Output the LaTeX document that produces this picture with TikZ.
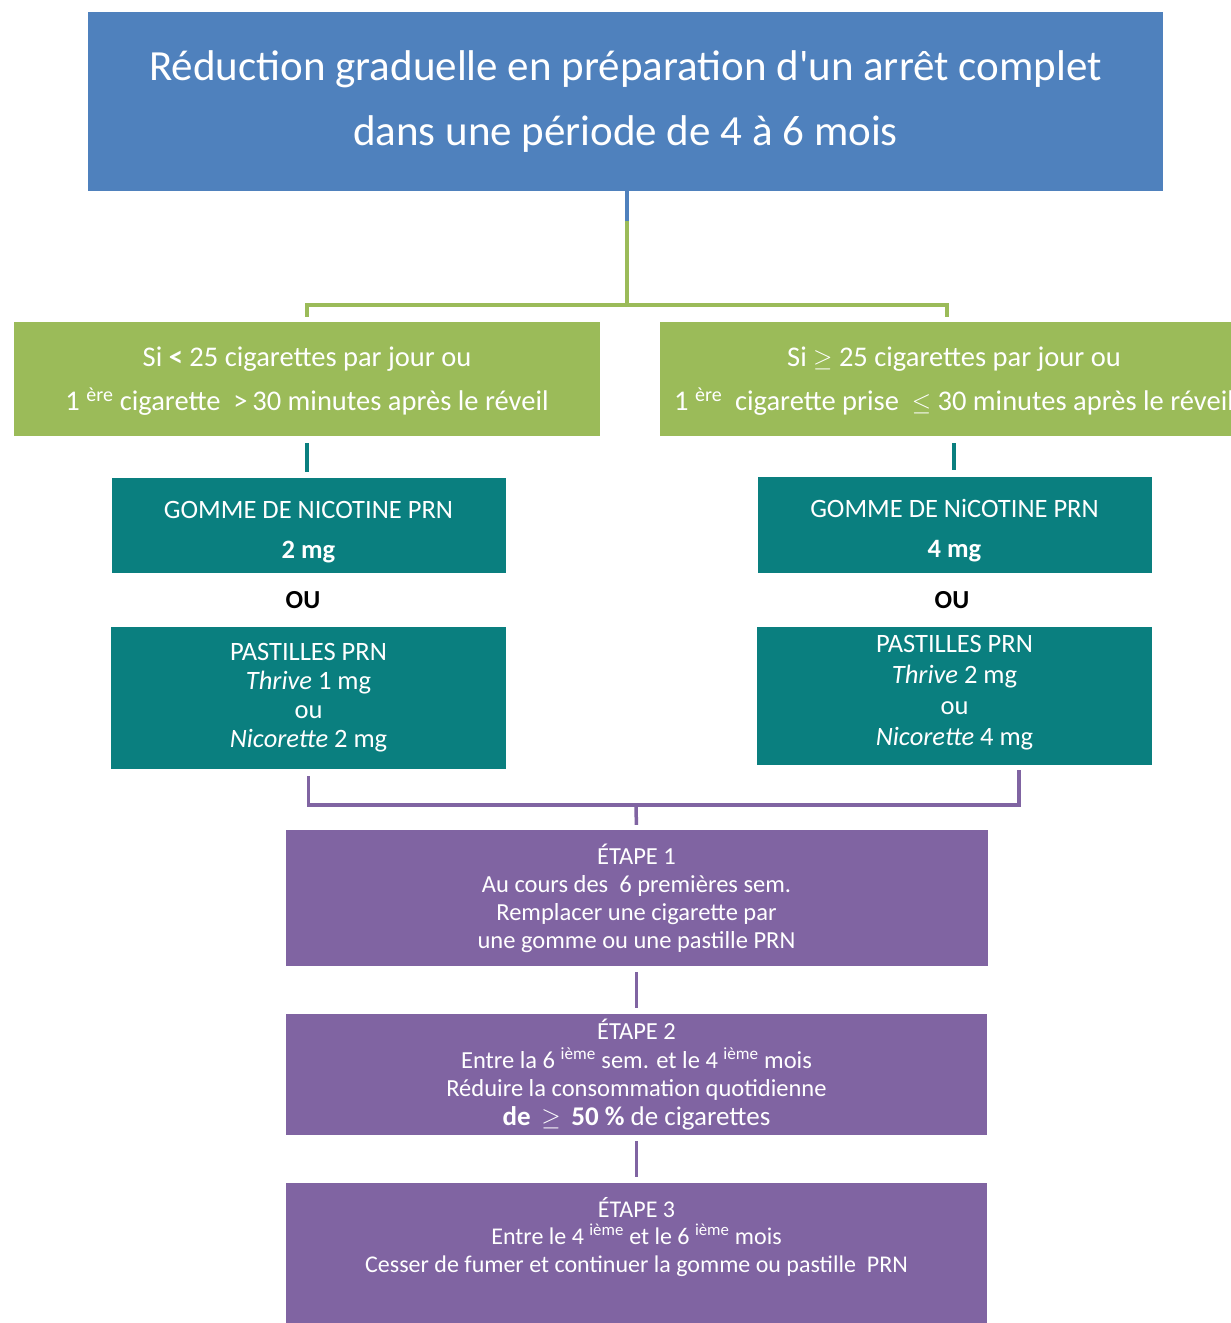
\documentclass[tikz,border=0pt]{standalone}
\usepackage{fontspec}
\setmainfont{Carlito}
\usetikzlibrary{calc}
\definecolor{cblue}{HTML}{4F81BD}
\definecolor{cgreen}{HTML}{9BBB59}
\definecolor{cteal}{HTML}{0A7F7F}
\definecolor{cpurple}{HTML}{8064A2}
\tikzset{
  box/.style={rectangle, inner sep=0pt, text=white, align=center},
  bluebox/.style={box, fill=cblue, minimum width=1075pt, minimum height=179pt, font=\fontsize{43}{65}\selectfont},
  greenbox/.style={box, fill=cgreen, minimum width=586pt, minimum height=114pt},
  greentext/.style={box, font=\fontsize{28.5}{44}\selectfont},
  tealbox/.style={box, fill=cteal, minimum width=394pt, font=\fontsize{26.5}{40}\selectfont},
  tealtext/.style={box, font=\fontsize{26.5}{40}\selectfont},
  purplebox/.style={box, fill=cpurple, minimum width=702pt, font=\fontsize{24.5}{28}\selectfont},
  oulabel/.style={font=\fontsize{26}{26}\selectfont\bfseries, text=black, inner sep=0pt},
  gline/.style={draw=cgreen, line width=3.5pt},
  tline/.style={draw=cteal, line width=3.5pt},
  pline/.style={draw=cpurple, line width=3.5pt},
}
\begin{document}
\begin{tikzpicture}[x=1pt, y=-1pt]
\clip (0,0) rectangle (1231,1323);
\fill[white] (0,0) rectangle (1231,1323);

% title
\node[bluebox] (title) at (625.5,101.5) {Réduction graduelle en préparation d\textquotesingle un arrêt complet\\dans une période de 4 à 6 mois};

% green boxes
\node[greenbox] (gl) at (307,379) {};
\node[greentext, yshift=-2pt] (glt) at (gl.center) {Si \textbf{<} 25 cigarettes par jour ou\\1 \textsuperscript{ère} cigarette \ >\,30 minutes après le réveil};
\node[greenbox, minimum width=588pt] (gr) at (954,379) {};
\node[greentext, yshift=-2pt] (grt) at (gr.center) {Si $\geq$ 25 cigarettes par jour ou\\1 \textsuperscript{ère} \ cigarette prise \ $\leq$ 30 minutes après le réveil};

% teal boxes
\node[tealbox, minimum height=95pt] (tl1) at (308.5,525.5) {};
\node[tealtext, yshift=-7pt] (tl1t) at (tl1.center) {GOMME DE NICOTINE PRN\\\textbf{2 mg}};
\node[oulabel] (oul) at (303,600) {OU};
\node[tealbox, minimum width=395pt, minimum height=142pt, font=\fontsize{26.5}{29}\selectfont] (tl2) at (308.5,698) {PASTILLES PRN\\\textit{Thrive} 1 mg\\ou\\\textit{Nicorette} 2 mg};

\node[tealbox, minimum height=96pt] (tr1) at (954.5,525) {};
\node[tealtext, yshift=-6pt] (tr1t) at (tr1.center) {GOMME DE NiCOTINE PRN\\\textbf{4 mg}};
\node[oulabel] (our) at (952,600) {OU};
\node[tealbox, minimum width=395pt, minimum height=138pt] (tr2) at (954.5,696) {};
\node[tealtext, font=\fontsize{26.5}{31}\selectfont, yshift=3pt] (tr2t) at (tr2.center) {PASTILLES PRN\\\textit{Thrive} 2 mg\\ou\\\textit{Nicorette} 4 mg};

% purple boxes
\node[purplebox, minimum height=136pt] (p1) at (636.5,898) {ÉTAPE 1\\Au cours des \ 6 premières sem.\\Remplacer une cigarette par\\une gomme ou une pastille PRN};
\node[purplebox, minimum width=701pt, minimum height=121pt, font=\fontsize{24.5}{28.7}\selectfont] (p2) at (636.5,1074.5) {ÉTAPE 2\\Entre la 6 \textsuperscript{ième} sem. et le 4 \textsuperscript{ième} mois\\Réduire la consommation quotidienne\\{\fontsize{27}{28.7}\selectfont\textbf{de \,$\geq$\, 50 \%} de cigarettes}};
\node[purplebox, minimum width=701pt, minimum height=108pt, font=\fontsize{24}{27.5}\selectfont] (p3) at (636.5,1237) {ÉTAPE 3\\Entre le 4 \textsuperscript{ième} et le 6 \textsuperscript{ième} mois\\Cesser de fumer et continuer la gomme ou pastille \ PRN};
\fill[cpurple] ([yshift=0.5pt]p3.south west) rectangle ($(p3.south east)+(0,40)$);

% connectors: title -> green
\coordinate (gj) at (627,305);
\draw[gline] (gj |- title.south) -- (gj);
\draw[draw=cblue, line width=3.5pt] (gj |- title.south) -- ($(gj |- title.south)+(0,30)$);
\draw[gline, shorten >=5pt] (gj) -| (gl.north);
\draw[gline, shorten >=5pt] (gj) -| ([xshift=-7pt]gr.north);

% green -> teal
\draw[tline, shorten <=7pt, shorten >=6pt] (gl.south) -- (gl.south |- tl1.north);
\draw[tline, shorten <=7pt, shorten >=7pt] (gr.south) -- (gr.south |- tr1.north);

% teal -> purple
\coordinate (pj) at (636,805);
\coordinate (pr) at (1019,805);
\draw[pline, shorten <=7pt] (tl2.south) -- (tl2.south |- pj) -- (pr) -- ([yshift=-5pt]pr |- tr2.south);
\draw[pline, shorten >=5pt] (pj) -- (p1.north);

% purple chain
\draw[pline, shorten <=6pt, shorten >=6pt] (p1.south) -- (p2.north);
\draw[pline, shorten <=6pt, shorten >=6pt] (p2.south) -- (p3.north);
\end{tikzpicture}
\end{document}
